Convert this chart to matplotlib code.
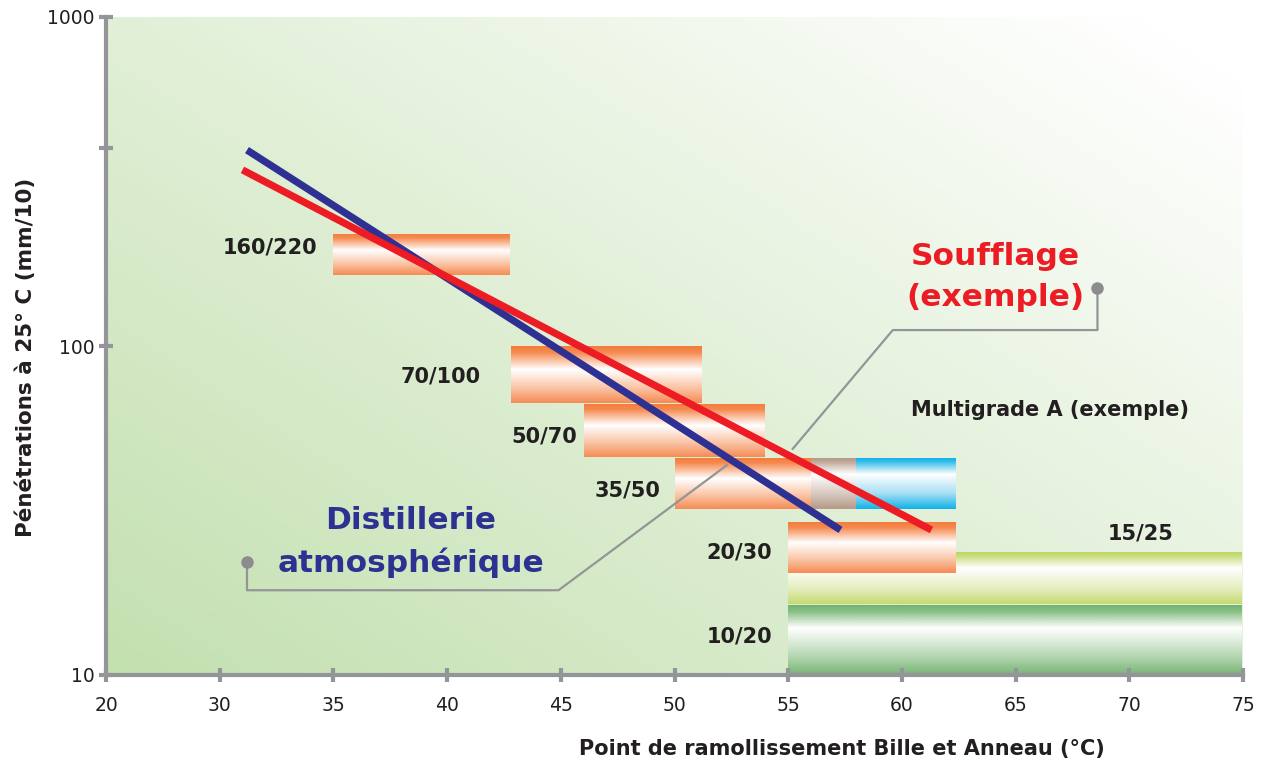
import numpy as np
import matplotlib
matplotlib.use("Agg")
import matplotlib.pyplot as plt
import matplotlib.ticker as ticker
from matplotlib.colors import LinearSegmentedColormap, to_rgb

# grades de bitume : point de ramollissement (degC) et penetration (mm/10)
grades = ["160/220", "70/100", "50/70", "35/50", "20/30"]
soft_lo = [35.0, 42.8, 46.0, 50.0, 55.0]
soft_hi = [42.8, 51.2, 54.0, 58.0, 62.4]
pen_lo = [164, 67, 46, 32, 20.4]
pen_hi = [220, 100, 67, 46, 29.2]

hard_grades = ["15/25", "10/20"]
hard_soft_lo = [55.0, 55.0]
hard_soft_hi = [75.0, 75.0]
hard_pen_lo = [16.4, 10.0]
hard_pen_hi = [23.6, 16.4]

multi_soft = [56.0, 62.4]
multi_pen = [32, 46]

distil_soft = [31.2, 57.3]
distil_pen = [394, 27.6]
souff_soft = [31.0, 61.3]
souff_pen = [343, 27.6]

x_ticks = [20, 30, 35, 40, 45, 50, 55, 60, 65, 70, 75]
y_ticks = [10, 100, 1000]

GRAY = "#939598"
DARK = "#231F20"
BLUE = "#2E3192"
RED = "#ED1C24"

# degrades des barres (position depuis le haut, couleur)
ORANGE = [(0, "#F37A38"), (0.12, "#F58A50"), (0.42, "#FFFFFF"), (0.75, "#FAC3A4"), (1, "#F68D56")]
CYAN = [(0, "#0DB1E6"), (0.08, "#2BBAE9"), (0.34, "#FFFFFF"), (0.7, "#A9E0F5"), (1, "#14B3E8")]
BEIGE = [(0, "#B29683"), (0.08, "#BBA393"), (0.34, "#FFFFFF"), (0.7, "#D9CCC3"), (1, "#B59B89")]
YELLOW = [(0, "#BCD55E"), (0.08, "#C8DC7A"), (0.31, "#FFFFFF"), (0.7, "#E6EFC0"), (1, "#C6DB74")]
GREEN = [(0, "#70B06C"), (0.1, "#86BE82"), (0.34, "#FFFFFF"), (0.75, "#B3D6B0"), (1, "#78B574")]


def fwd(x):
    x = np.asarray(x, dtype=float)
    return np.where(x < 30, (x - 20) / 10.0, 1 + (x - 30) / 5.0)


def inv(p):
    p = np.asarray(p, dtype=float)
    return np.where(p < 1, 20 + 10 * p, 30 + 5 * (p - 1))


def grad_bar(ax, x0, x1, y0, y1, stops, z=2):
    # degrade vertical, echantillonne pour rester regulier sur l'axe log
    cmap = LinearSegmentedColormap.from_list("g", stops)
    n = 256
    yy = y1 - (np.arange(n) + 0.5) / n * (y1 - y0)
    f = (np.log10(y1) - np.log10(yy)) / (np.log10(y1) - np.log10(y0))
    col = cmap(f)[:, None, :3]
    ax.imshow(col, extent=(x0, x1, y0, y1), origin="upper", aspect="auto",
              interpolation="bilinear", zorder=z)


fig = plt.figure(figsize=(12.61, 7.66), dpi=100)
pos = [106 / 1261, 91 / 766, 1137 / 1261, 658 / 766]

# fond degrade vert -> blanc
bg_ax = fig.add_axes(pos)
xf, yf = np.meshgrid(np.linspace(0, 1, 300), np.linspace(0, 1, 200))
t = np.clip(0.55 * xf + 0.5 * yf, 0, 1)[..., None]
c0 = np.array(to_rgb("#C3E0AF"))
bg = c0 + (1 - c0) * t
bg_ax.imshow(bg, extent=(0, 1, 0, 1), origin="lower", aspect="auto")
bg_ax.axis("off")

ax = fig.add_axes(pos)
ax.patch.set_alpha(0)
ax.set_xscale("function", functions=(fwd, inv))
ax.set_yscale("log")

grad_bar(ax, hard_soft_lo[0], hard_soft_hi[0], hard_pen_lo[0], hard_pen_hi[0], YELLOW, z=1.8)
grad_bar(ax, hard_soft_lo[1], hard_soft_hi[1], hard_pen_lo[1], hard_pen_hi[1], GREEN, z=1.8)

for i in range(len(grades)):
    grad_bar(ax, soft_lo[i], soft_hi[i], pen_lo[i], pen_hi[i], ORANGE)

# multigrade et zone de recouvrement avec 35/50
grad_bar(ax, multi_soft[0], multi_soft[1], multi_pen[0], multi_pen[1], CYAN)
ov_hi = min(multi_soft[1], soft_hi[3])
grad_bar(ax, multi_soft[0], ov_hi, multi_pen[0], multi_pen[1], BEIGE, z=2.1)

# legendes fleches
ax.plot([31.2, 31.2, 44.9, 52.3], [22.05, 18.1, 18.1, 43.4], color=GRAY, lw=1.6, zorder=3)
ax.plot([31.2], [22.05], "o", color="#8C8C8F", ms=8, zorder=3)
ax.plot([68.6, 68.6, 59.6, 55.2], [150, 111.8, 111.8, 48.7], color=GRAY, lw=1.6, zorder=3)
ax.plot([68.6], [150], "o", color="#8C8C8F", ms=8, zorder=3)

ax.plot(distil_soft, distil_pen, color=BLUE, lw=5.2, solid_capstyle="butt", zorder=4)
ax.plot(souff_soft, souff_pen, color=RED, lw=5.2, solid_capstyle="butt", zorder=5)

lab = dict(fontsize=15, fontweight="bold", color=DARK, va="center", zorder=6)
ax.text(34.3, 199, grades[0], ha="right", **lab)
ax.text(41.5, 80.6, grades[1], ha="right", **lab)
ax.text(45.7, 52.9, grades[2], ha="right", **lab)
ax.text(49.4, 36.5, grades[3], ha="right", **lab)
ax.text(54.3, 23.5, grades[4], ha="right", **lab)
ax.text(70.5, 27.0, hard_grades[0], ha="center", **lab)
ax.text(54.3, 13.05, hard_grades[1], ha="right", **lab)
ax.text(60.4, 63.9, "Multigrade A (exemple)", ha="left", **lab)

ax.text(64.1, 162, "Soufflage\n(exemple)", ha="center", va="center", fontsize=22.5,
        fontweight="bold", color=RED, linespacing=1.5, zorder=6)
ax.text(38.4, 25.4, "Distillerie\natmosphérique", ha="center", va="center", fontsize=22.5,
        fontweight="bold", color=BLUE, linespacing=1.5, zorder=6)

ax.set_xlim(20, 75)
ax.set_ylim(10, 1000)
ax.set_xticks(x_ticks)
ax.set_xticklabels([str(v) for v in x_ticks])
ax.xaxis.set_minor_locator(ticker.NullLocator())
ax.set_yticks(y_ticks)
ax.set_yticklabels([str(v) for v in y_ticks])
ax.yaxis.set_minor_locator(ticker.FixedLocator([400]))
ax.yaxis.set_minor_formatter(ticker.NullFormatter())

for s in ["top", "right"]:
    ax.spines[s].set_visible(False)
for s in ["left", "bottom"]:
    ax.spines[s].set_color(GRAY)
    ax.spines[s].set_linewidth(3)
ax.set_axisbelow(False)
ax.tick_params(which="both", direction="inout", length=10, width=3, color=GRAY,
               labelsize=13.5, labelcolor=DARK)
ax.tick_params(axis="x", pad=10)
ax.tick_params(axis="y", pad=3)

ax.set_xlabel("Point de ramollissement Bille et Anneau (°C)", fontsize=15,
              fontweight="bold", color=DARK)
ax.xaxis.set_label_coords(0.647, -0.097)
ax.set_ylabel("Pénétrations à 25° C (mm/10)", fontsize=15.5, fontweight="bold", color=DARK)
ax.yaxis.set_label_coords(-0.062, 0.483)

fig.savefig("out.png", dpi=100)
